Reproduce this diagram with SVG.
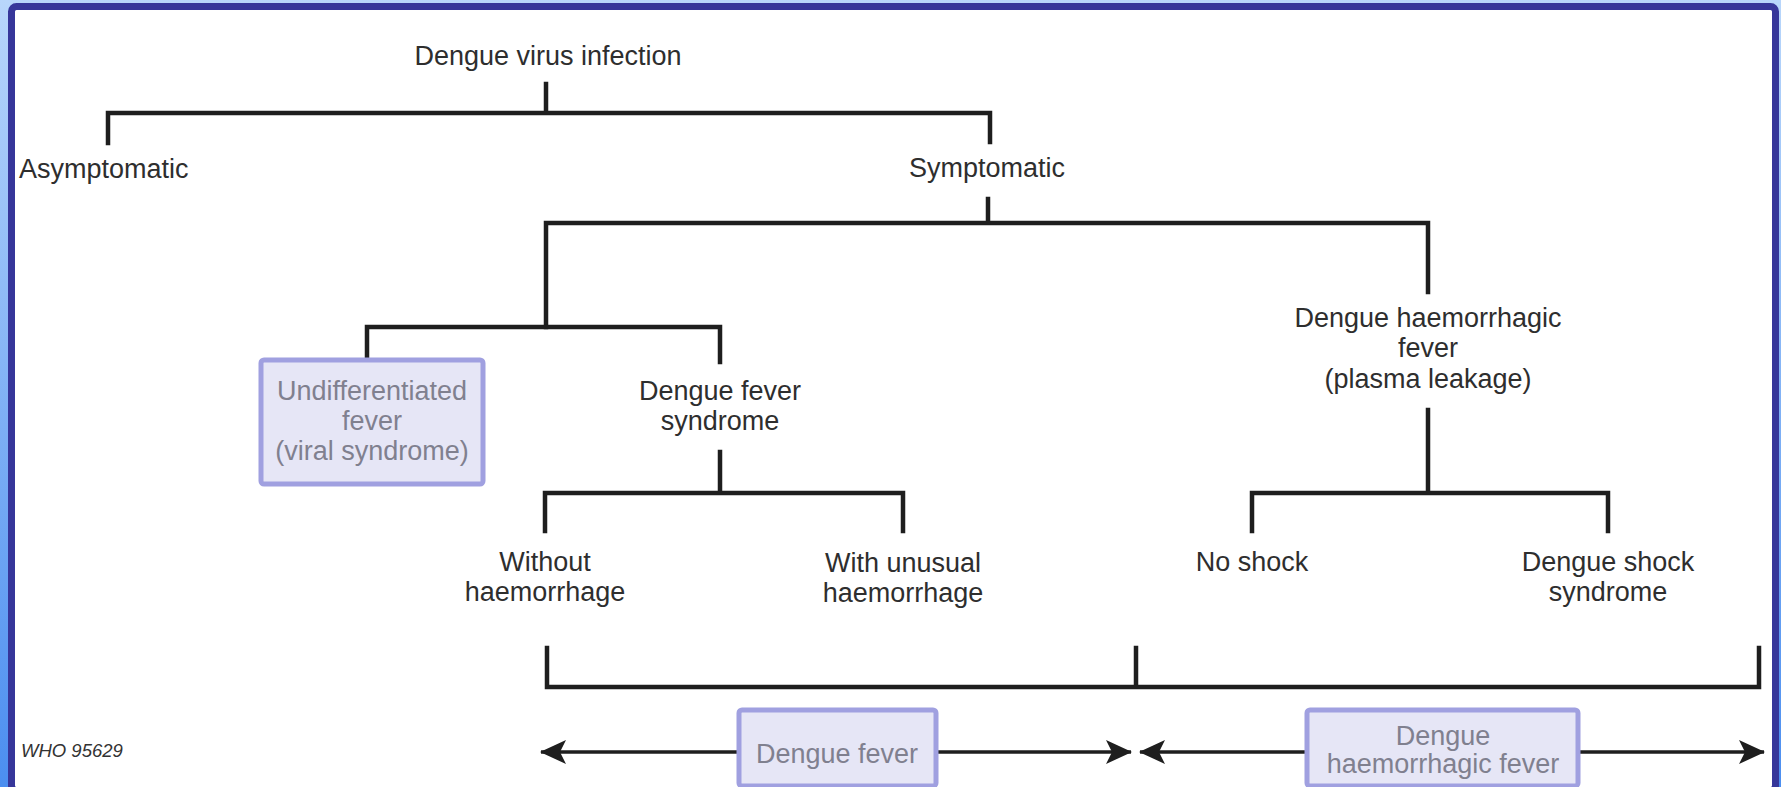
<svg xmlns="http://www.w3.org/2000/svg" width="1781" height="787" viewBox="0 0 1781 787">
<defs>
<linearGradient id="bg" x1="0" y1="0" x2="0" y2="1">
<stop offset="0" stop-color="#b8d6fb"/>
<stop offset="1" stop-color="#4b8ef0"/>
</linearGradient>
<marker id="ah" viewBox="0 0 26 26" refX="25" refY="13" markerWidth="26" markerHeight="26" markerUnits="userSpaceOnUse" orient="auto-start-reverse">
<path d="M0,1 L26,13 L0,25 L6,13 Z" fill="#1e1e1e"/>
</marker>
<style>
.t{font-family:"Liberation Sans",Arial,sans-serif;font-size:27px;fill:#2e2e2e;text-anchor:middle}
.g{font-family:"Liberation Sans",Arial,sans-serif;font-size:27px;fill:#80808f;text-anchor:middle}
.w{font-family:"Liberation Sans",Arial,sans-serif;font-size:18.5px;font-style:italic;fill:#333}
.ln{fill:none;stroke:#1e1e1e;stroke-width:4.5;stroke-linecap:square;stroke-linejoin:miter}
.ar{fill:none;stroke:#1e1e1e;stroke-width:3.5}
.bx{fill:#e6e6f6;stroke:#a0a0e0;stroke-width:5}
</style>
</defs>
<rect x="0" y="0" width="1781" height="787" fill="url(#bg)"/>
<rect x="11.5" y="6.5" width="1764" height="784" rx="5" fill="#ffffff" stroke="#36369a" stroke-width="7"/>

<g id="connectors">
<path class="ln" d="M546,84 V113 M108,143 V113 H990 V142"/>
<path class="ln" d="M988,199 V223 M546,327 V223 H1428 V292"/>
<path class="ln" d="M367,358 V327 H720 V362"/>
<path class="ln" d="M720,452 V493 M545,531 V493 H903 V531"/>
<path class="ln" d="M1428,410 V493 M1252,531 V493 H1608 V531"/>
<path class="ln" d="M547,648 V687 H1759 V648 M1136,648 V687"/>
<line class="ar" x1="541" y1="752" x2="1131" y2="752" marker-start="url(#ah)" marker-end="url(#ah)"/>
<line class="ar" x1="1140" y1="752" x2="1764" y2="752" marker-start="url(#ah)" marker-end="url(#ah)"/>
</g>

<g id="n-infection"><text class="t" x="548" y="65">Dengue virus infection</text></g>
<g id="n-asymptomatic"><text class="t" x="19" y="178" style="text-anchor:start">Asymptomatic</text></g>
<g id="n-symptomatic"><text class="t" x="987" y="177">Symptomatic</text></g>
<g id="n-undiff">
<rect class="bx" x="261" y="360" width="222" height="124" rx="3"/>
<text class="g" x="372" y="400">Undifferentiated</text>
<text class="g" x="372" y="430">fever</text>
<text class="g" x="372" y="460">(viral syndrome)</text>
</g>
<g id="n-dfs">
<text class="t" x="720" y="400">Dengue fever</text>
<text class="t" x="720" y="430">syndrome</text>
</g>
<g id="n-dhf">
<text class="t" x="1428" y="327">Dengue haemorrhagic</text>
<text class="t" x="1428" y="357">fever</text>
<text class="t" x="1428" y="388">(plasma leakage)</text>
</g>
<g id="n-without">
<text class="t" x="545" y="571">Without</text>
<text class="t" x="545" y="601">haemorrhage</text>
</g>
<g id="n-with">
<text class="t" x="903" y="572">With unusual</text>
<text class="t" x="903" y="602">haemorrhage</text>
</g>
<g id="n-noshock"><text class="t" x="1252" y="571">No shock</text></g>
<g id="n-dss">
<text class="t" x="1608" y="571">Dengue shock</text>
<text class="t" x="1608" y="601">syndrome</text>
</g>
<g id="n-df">
<rect class="bx" x="739" y="710" width="197" height="76" rx="3"/>
<text class="g" x="837" y="763">Dengue fever</text>
</g>
<g id="n-dhf2">
<rect class="bx" x="1307" y="710" width="271" height="76" rx="3"/>
<text class="g" x="1443" y="745">Dengue</text>
<text class="g" x="1443" y="773">haemorrhagic fever</text>
</g>
<g id="n-who"><text class="w" x="21" y="757">WHO 95629</text></g>
</svg>
